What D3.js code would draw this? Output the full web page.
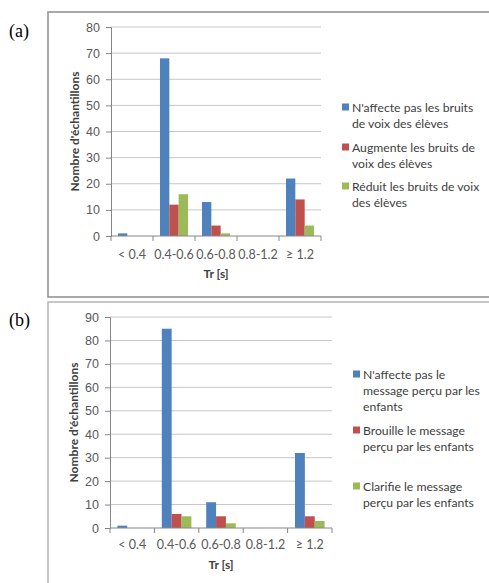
<!DOCTYPE html>
<html lang="fr">
<head>
<meta charset="UTF-8">
<title>Nombre d'échantillons selon Tr</title>
<script src="https://cdnjs.cloudflare.com/ajax/libs/d3/7.8.5/d3.min.js"></script>
<style>
    body { margin: 0; background: #fff; }
    svg { display: block; font-family: Lato, 'Open Sans', sans-serif; }
    .tick-label { font-size: 12.5px; fill: #595959; }
    .axis-title { font-size: 12px; font-weight: 700; fill: #404040; }
    .legend-text { font-size: 12.2px; fill: #404040; }
    .panel-label { font-family: 'Liberation Serif', 'DejaVu Serif', serif; font-size: 18px; fill: #000; }
</style>
</head>
<body>
<svg id="chart" width="489" height="583"></svg>
<script>
// categories shared by both panels
const categories = ['< 0.4', '0.4-0.6', '0.6-0.8', '0.8-1.2', '≥ 1.2'];
const seriesColors = ['#4F81BD', '#C0504D', '#9BBB59'];

// (a) voix des élèves
const aNoEffect = [1, 68, 13, 0, 22];
const aIncrease = [0, 12, 4, 0, 14];
const aReduce   = [0, 16, 1, 0, 4];
const aTicks = [0, 10, 20, 30, 40, 50, 60, 70, 80];
const aLegend = [
    ["N'affecte pas les bruits", 'de voix des élèves'],
    ['Augmente les bruits de', 'voix des élèves'],
    ['Réduit les bruits de voix', 'des élèves']
];

// (b) message perçu par les enfants
const bNoEffect = [1, 85, 11, 0, 32];
const bScramble = [0, 6, 5, 0, 5];
const bClarify  = [0, 5, 2, 0, 3];
const bTicks = [0, 10, 20, 30, 40, 50, 60, 70, 80, 90];
const bLegend = [
    ["N'affecte pas le", 'message perçu par les', 'enfants'],
    ['Brouille le message', 'perçu par les enfants'],
    ['Clarifie le message', 'perçu par les enfants']
];

const svg = d3.select('#chart');

function drawPanel(p) {
    const g = svg.append('g');

    // frame
    g.append('rect')
        .attr('x', p.frame[0]).attr('y', p.frame[1])
        .attr('width', p.frame[2]).attr('height', p.frame[3])
        .attr('fill', 'none')
        .attr('stroke', p.frameColor)
        .attr('stroke-width', 1.5);

    g.append('text')
        .attr('class', 'panel-label')
        .attr('x', 9).attr('y', p.labelY)
        .attr('dominant-baseline', 'central')
        .text(p.label);

    const x0 = d3.scaleBand().domain(categories).range([p.left, p.right]);
    const x1 = d3.scaleBand().domain(d3.range(p.series.length))
        .range([0, x0.bandwidth()]).paddingOuter(0.75);
    const y = d3.scaleLinear().domain([0, d3.max(p.ticks)]).range([p.bottom, p.top]);

    // gridlines
    g.append('g').selectAll('line')
        .data(p.ticks.filter(t => t > 0))
        .join('line')
        .attr('x1', p.left).attr('x2', p.right)
        .attr('y1', d => y(d)).attr('y2', d => y(d))
        .attr('stroke', '#c6c6c6').attr('stroke-width', 1);

    // bars
    p.series.forEach((vals, si) => {
        g.append('g').selectAll('rect')
            .data(vals)
            .join('rect')
            .attr('x', (d, i) => x0(categories[i]) + x1(si))
            .attr('y', d => y(d))
            .attr('width', x1.bandwidth())
            .attr('height', d => p.bottom - y(d))
            .attr('fill', seriesColors[si]);
    });

    // y axis
    const yAxis = g.append('g')
        .attr('transform', `translate(${p.left},0)`)
        .call(d3.axisLeft(y).tickValues(p.ticks).tickSize(5).tickPadding(6));
    yAxis.select('.domain').attr('stroke', '#868686');
    yAxis.selectAll('.tick line').attr('stroke', '#868686');
    yAxis.selectAll('.tick text').attr('class', 'tick-label').attr('fill', null).attr('font-family', null).attr('font-size', null);

    // x axis: ticks on band boundaries
    const xAxis = g.append('g').attr('transform', `translate(0,${p.bottom})`);
    xAxis.append('line')
        .attr('x1', p.left).attr('x2', p.right)
        .attr('stroke', '#868686');
    const bounds = categories.map(c => x0(c)).concat([p.right]);
    xAxis.selectAll('line.tk')
        .data(bounds)
        .join('line')
        .attr('class', 'tk')
        .attr('x1', d => d).attr('x2', d => d)
        .attr('y1', 0).attr('y2', 5)
        .attr('stroke', '#868686');
    xAxis.selectAll('text')
        .data(categories)
        .join('text')
        .attr('class', 'tick-label')
        .attr('x', d => x0(d) + x0.bandwidth() / 2)
        .attr('y', p.catY - p.bottom)
        .attr('text-anchor', 'middle')
        .attr('dominant-baseline', 'central')
        .text(d => d);

    // axis titles
    g.append('text')
        .attr('class', 'axis-title')
        .attr('x', (p.left + p.right) / 2)
        .attr('y', p.xTitleY)
        .attr('text-anchor', 'middle')
        .attr('dominant-baseline', 'central')
        .text('Tr [s]');
    g.append('text')
        .attr('class', 'axis-title')
        .attr('transform', `translate(${p.yTitleX},${(p.top + p.bottom) / 2}) rotate(-90)`)
        .attr('text-anchor', 'middle')
        .attr('dominant-baseline', 'central')
        .text("Nombre d'échantillons");

    // legend
    p.legend.forEach((lines, li) => {
        const ly = p.legendY[li];
        g.append('rect')
            .attr('x', p.legendX).attr('y', ly - 3.5)
            .attr('width', 7).attr('height', 7)
            .attr('fill', seriesColors[li]);
        const t = g.append('text')
            .attr('class', 'legend-text')
            .attr('x', p.legendX + 10)
            .attr('y', ly)
            .attr('dominant-baseline', 'central');
        lines.forEach((ln, k) => {
            t.append('tspan')
                .attr('x', p.legendX + 10)
                .attr('y', ly + k * 16)
                .text(ln);
        });
    });
}

drawPanel({
    label: '(a)', labelY: 31,
    frame: [48, 12, 460, 285], frameColor: '#8c8c8c',
    left: 111, right: 321, top: 27, bottom: 236,
    ticks: aTicks,
    series: [aNoEffect, aIncrease, aReduce],
    catY: 254, xTitleY: 273, yTitleX: 74,
    legend: aLegend, legendX: 342, legendY: [107, 147, 186]
});

drawPanel({
    label: '(b)', labelY: 320,
    frame: [48, 302, 460, 300], frameColor: '#b4b4b4',
    left: 110, right: 332, top: 317, bottom: 528,
    ticks: bTicks,
    series: [bNoEffect, bScramble, bClarify],
    catY: 544, xTitleY: 564, yTitleX: 73,
    legend: bLegend, legendX: 353, legendY: [374, 430, 486]
});
</script>
</body>
</html>
